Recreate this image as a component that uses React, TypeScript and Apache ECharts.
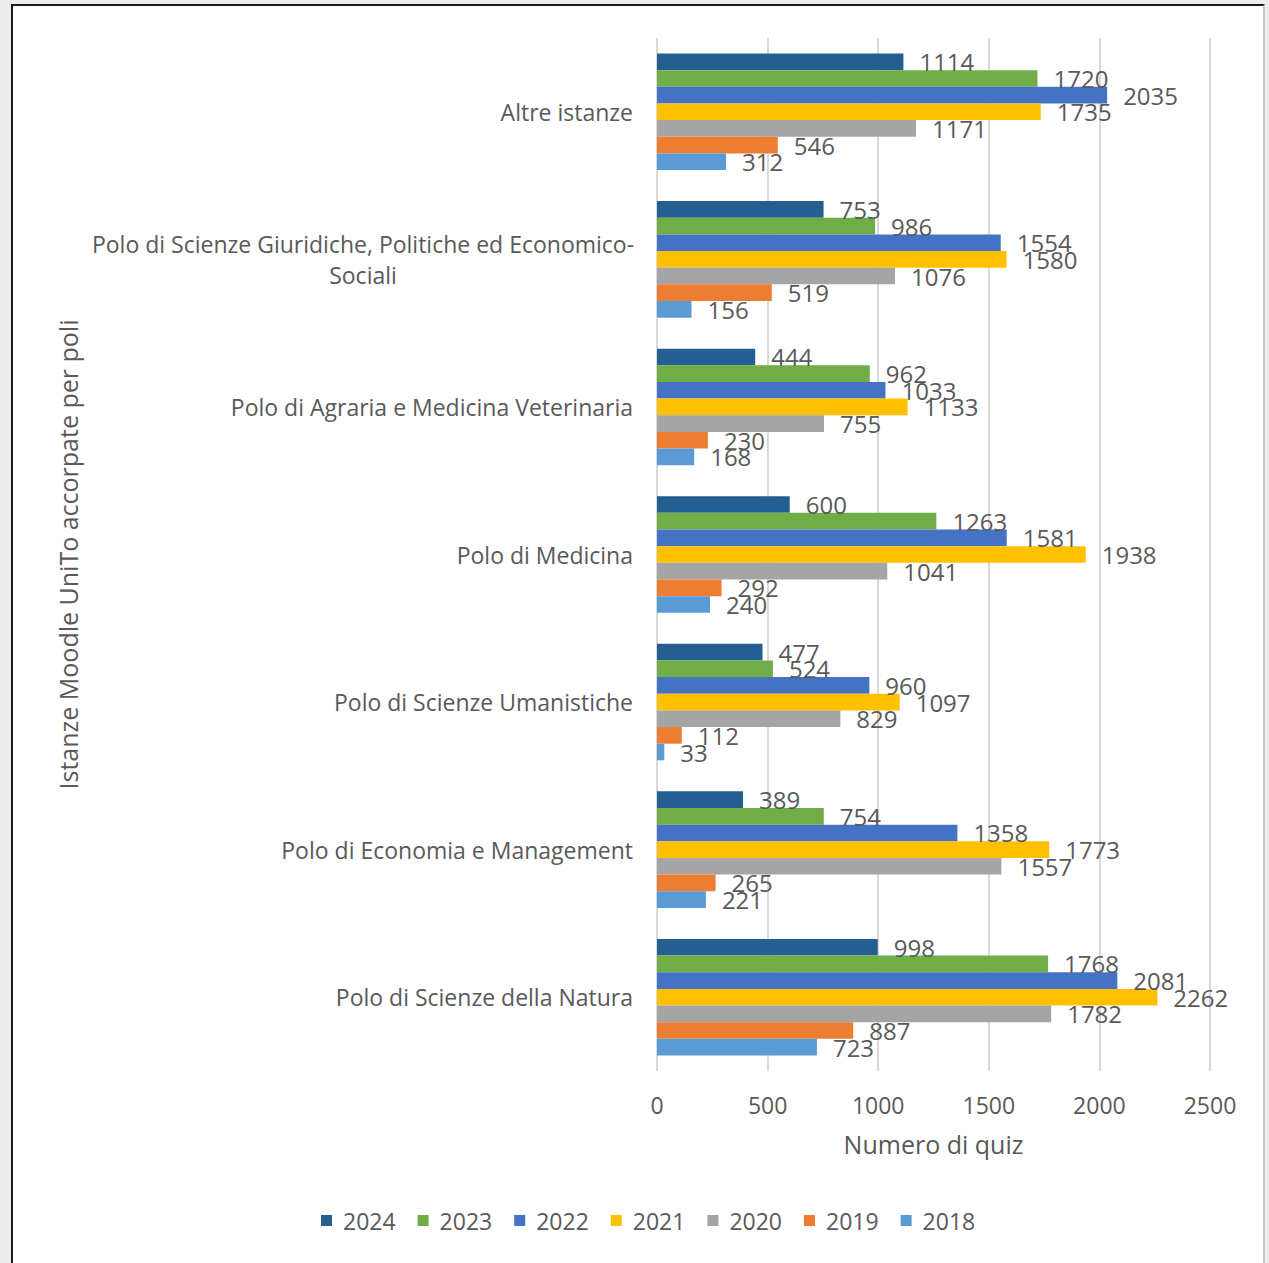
import React, { useEffect, useRef } from "react";
import * as echarts from "echarts";

const categories = [
  "Polo di Scienze della Natura",
  "Polo di Economia e Management",
  "Polo di Scienze Umanistiche",
  "Polo di Medicina",
  "Polo di Agraria e Medicina Veterinaria",
  "Polo di Scienze Giuridiche, Politiche ed Economico-Sociali",
  "Altre istanze",
];
const years = ["2024", "2023", "2022", "2021", "2020", "2019", "2018"];
const v2024 = [998, 389, 477, 600, 444, 753, 1114];
const v2023 = [1768, 754, 524, 1263, 962, 986, 1720];
const v2022 = [2081, 1358, 960, 1581, 1033, 1554, 2035];
const v2021 = [2262, 1773, 1097, 1938, 1133, 1580, 1735];
const v2020 = [1782, 1557, 829, 1041, 755, 1076, 1171];
const v2019 = [887, 265, 112, 292, 230, 519, 546];
const v2018 = [723, 221, 33, 240, 168, 156, 312];
const seriesValues = [v2024, v2023, v2022, v2021, v2020, v2019, v2018];
const colors = ["#255E91", "#70AD47", "#4472C4", "#FFC000", "#A5A5A5", "#ED7D31", "#5B9BD5"];

const xMin = 0;
const xMax = 2500;
const xInterval = 500;

const FONT = "'Open Sans', 'Noto Sans', sans-serif";
const TEXT = "#595959";

export default function App() {
  const ref = useRef<HTMLDivElement>(null);
  useEffect(() => {
    if (!ref.current) return;
    const chart = echarts.init(ref.current, null, { renderer: "svg" });
    chart.setOption({
      animation: false,
      textStyle: { fontFamily: FONT, color: TEXT },
      grid: { left: 657, right: 59, top: 38, bottom: 192, containLabel: false },
      legend: {
        data: years,
        bottom: 26,
        left: 316,
        itemWidth: 11,
        itemHeight: 11,
        itemGap: 22,
        icon: "rect",
        textStyle: { fontFamily: FONT, fontSize: 23, color: TEXT, padding: [0, 0, 0, 6] },
      },
      xAxis: {
        type: "value",
        min: xMin,
        max: xMax,
        interval: xInterval,
        name: "Numero di quiz",
        nameLocation: "middle",
        nameGap: 60,
        nameTextStyle: { fontFamily: FONT, fontSize: 25, color: TEXT },
        axisLine: { show: false },
        axisTick: { show: false },
        axisLabel: {
          fontFamily: FONT,
          fontSize: 23,
          color: TEXT,
          margin: 22,
          formatter: (v: number) => String(v),
        },
        splitLine: { show: true, lineStyle: { color: "#D9D9D9", width: 2 } },
      },
      yAxis: {
        type: "category",
        data: categories,
        name: "Istanze Moodle UniTo accorpate per poli",
        nameLocation: "middle",
        nameGap: 577,
        nameRotate: 90,
        nameTextStyle: { fontFamily: FONT, fontSize: 25, color: TEXT },
        axisLine: { show: false },
        axisTick: { show: false },
        axisLabel: {
          fontFamily: FONT,
          fontSize: 23,
          color: TEXT,
          margin: 24,
          lineHeight: 31,
          formatter: (v: string) =>
            v === categories[5]
              ? "{c|Polo di Scienze Giuridiche, Politiche ed Economico-}\n{c|Sociali}"
              : v,
          rich: {
            c: { width: 540, align: "center", fontFamily: FONT, fontSize: 23, color: TEXT, lineHeight: 31 },
          },
        },
      },
      series: years.map((y, i) => ({
        name: y,
        type: "bar",
        data: seriesValues[i],
        barGap: "0%",
        barCategoryGap: "21%",
        itemStyle: { color: colors[i] },
        label: {
          show: true,
          position: "right",
          distance: 16,
          fontFamily: FONT,
          fontSize: 24,
          color: TEXT,
        },
      })),
    });
    return () => chart.dispose();
  }, []);

  return (
    <div style={{ position: "fixed", left: 0, top: 0, width: 1269, height: 1263, background: "#ECECEC", overflow: "hidden" }}>
      <div
        style={{
          position: "absolute",
          left: 11,
          top: 4,
          width: 1254,
          height: 1300,
          background: "#FFFFFF",
          borderLeft: "2px solid #1A1A1A",
          borderTop: "2px solid #1A1A1A",
          borderRight: "2px solid #C8C8C8",
          boxSizing: "border-box",
        }}
      />
      <div ref={ref} style={{ position: "absolute", left: 0, top: 0, width: 1269, height: 1263 }} />
    </div>
  );
}
